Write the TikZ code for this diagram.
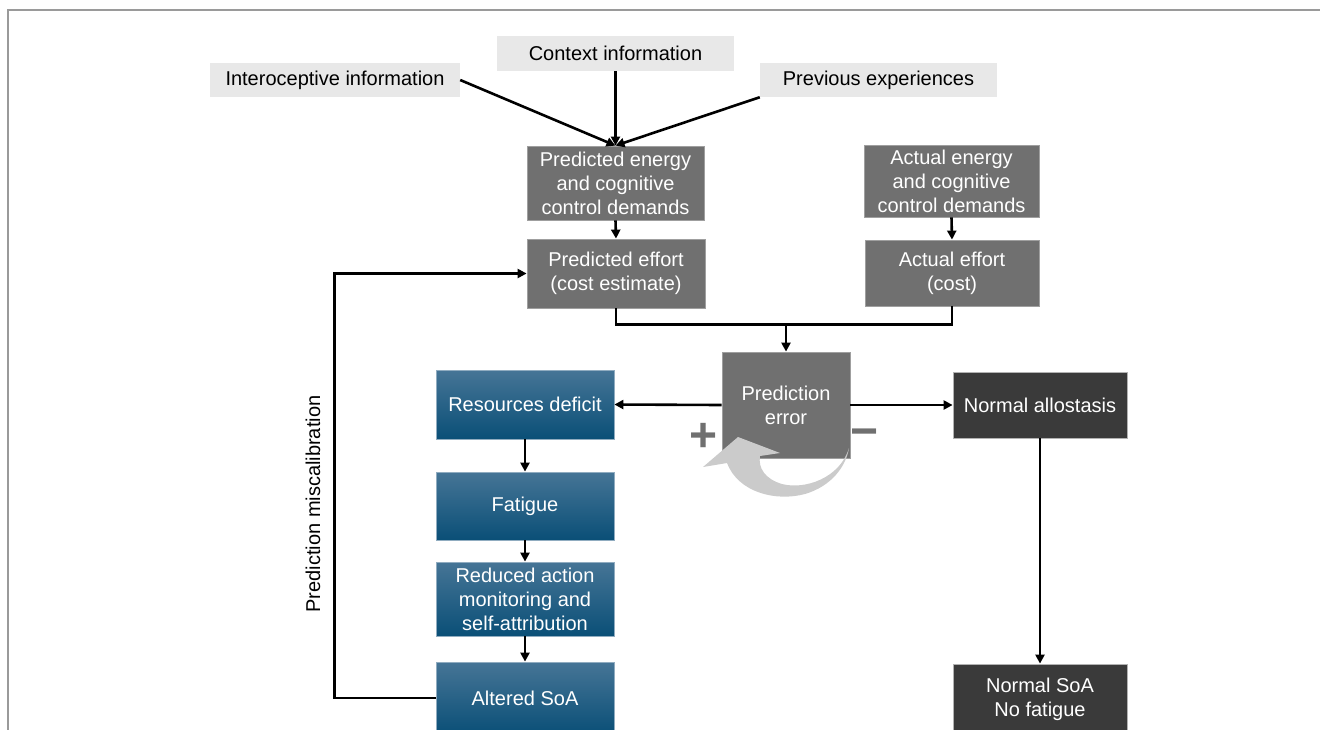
\documentclass[tikz,border=0pt]{standalone}
\usepackage{fontspec}
\setmainfont{Liberation Sans}
\usetikzlibrary{arrows.meta}
\definecolor{lightfill}{HTML}{E8E8E8}
\definecolor{midfill}{HTML}{707070}
\definecolor{darkfill}{HTML}{3A3A3A}
\definecolor{bluetop}{HTML}{467596}
\definecolor{bluebot}{HTML}{0A4F77}
\definecolor{curvegray}{HTML}{CBCBCB}
\definecolor{framegray}{HTML}{9A9A9A}
\begin{document}
\begin{tikzpicture}[x=1pt,y=-1pt,
 every node/.style={font=\fontsize{20}{24}\selectfont, inner sep=0pt, align=center},
 infobox/.style={fill=lightfill, text=black},
 graybox/.style={fill=midfill, draw=gray!75, line width=0.8pt, text=white},
 darkbox/.style={fill=darkfill, draw=gray!60, line width=0.8pt, text=white},
 bluebox/.style={top color=bluetop, bottom color=bluebot, draw=bluetop!60!white, line width=0.8pt, text=white},
 conn/.style={line width=2.6pt, black},
 arr/.style={conn, -{Triangle[length=9pt,width=9pt]}},
 sign/.style={text=midfill, font=\fontsize{48}{48}\bfseries\selectfont},
]
\clip (0,0) rectangle (1320,729);
\useasboundingbox (0,0) rectangle (1320,729);
\draw[framegray, line width=1.5pt] (8,735) -- (8,10) -- (1325,10);

% input boxes
\node[infobox, minimum width=250pt, minimum height=34pt] (intero) at (335,80) {Interoceptive information};
\node[infobox, minimum width=237pt, minimum height=35pt] (context) at (615.5,53.5) {Context information};
\node[infobox, minimum width=237pt, minimum height=34pt] (prev) at (878.5,80) {Previous experiences};

% predicted / actual
\node[graybox, minimum width=177pt, minimum height=74pt] (pen) at (615.5,183) {Predicted energy\\and cognitive\\control demands};
\node[graybox, minimum width=175pt, minimum height=72pt] (aen) at (951.5,181) {Actual energy\\and cognitive\\control demands};
\node[graybox, minimum width=178pt, minimum height=69pt] (peff) at (616,273.5) {Predicted effort\\(cost estimate)};
\node[graybox, minimum width=174pt, minimum height=66pt] (aeff) at (952,273) {Actual effort\\(cost)};
\node[graybox, minimum width=128pt, minimum height=106pt] (err) at (786,405) {Prediction\\error};

% blue chain
\node[bluebox, minimum width=178pt, minimum height=69pt] (res) at (525,404.5) {Resources deficit};
\node[bluebox, minimum width=178pt, minimum height=68pt] (fat) at (525,506) {Fatigue};
\node[bluebox, minimum width=178pt, minimum height=74pt] (red) at (525,599) {Reduced action\\monitoring and\\self-attribution};
\node[bluebox, minimum width=178pt, minimum height=72pt] (alt) at (525,698) {Altered SoA};

% dark chain
\node[darkbox, minimum width=174pt, minimum height=66pt] (nall) at (1040,405) {Normal allostasis};
\node[darkbox, minimum width=174pt, minimum height=70pt] (nsoa) at (1040,699) {Normal SoA\\No fatigue};

% label
\node[rotate=90, text=black] (miscal) at (313,504) {Prediction miscalibration};

% connectors
\draw[arr] (intero.east) -- (pen.north);
\draw[arr] (context.south) -- (pen.north);
\draw[arr] (prev.south west) -- (pen.north);
\draw[arr] (pen.south) -- (peff.north);
\draw[arr] (aen.south) -- (aeff.north);
\draw[conn] (peff.south) -- ++(0,16) coordinate (join) -| (aeff.south);
\draw[arr] (err.north |- join) -- (err.north);
\draw[arr] (err.west) -- (res.east);
\draw[arr] (err.east) -- (nall.west);
\draw[arr] (res.south) -- (fat.north);
\draw[arr] (fat.south) -- (red.north);
\draw[arr] (red.south) -- (alt.north);
\draw[arr] (alt.west) -- ++(-101,0) |- (peff.west);
\draw[arr] (nall.south) -- (nsoa.north);

% signs
\node[sign] (plus) at (703.5,437) {+};
\node[sign] (minus) at (865,438) {\char"2212};

% curved feedback arrow
\fill[curvegray] (849,448)
  .. controls (840,478) and (805,490) .. (782,484)
  .. controls (765,479) and (758,468) .. (760,456)
  -- (780,453) -- (738,437) -- (703,467) -- (727,463)
  .. controls (738,492) and (775,502) .. (805,494)
  .. controls (832,486) and (846,466) .. (849,448) -- cycle;
\end{tikzpicture}
\end{document}
